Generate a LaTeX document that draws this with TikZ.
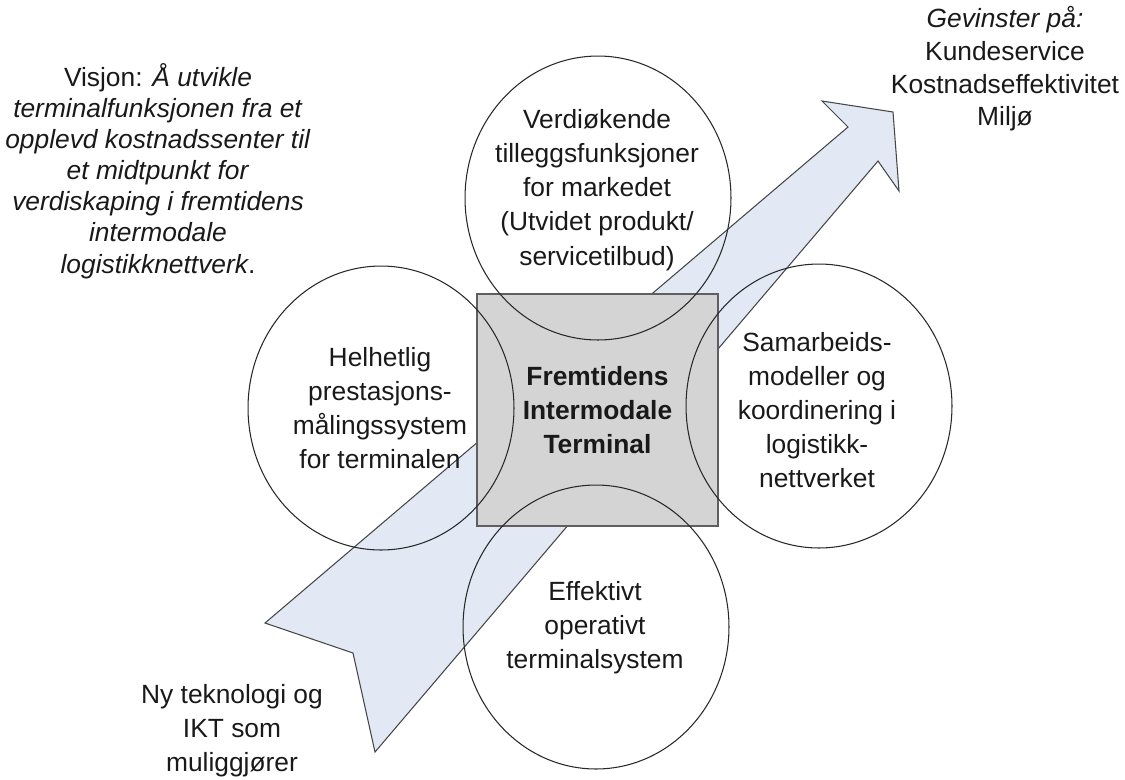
\documentclass[tikz,border=0pt]{standalone}
\usepackage{fontspec}
\setmainfont{Liberation Sans}
\usetikzlibrary{shapes.geometric}
\definecolor{pilfyll}{RGB}{226,233,245}
\definecolor{pilkant}{RGB}{70,70,70}
\definecolor{boksfyll}{RGB}{212,212,212}
\definecolor{bokskant}{RGB}{95,95,95}
\definecolor{ringkant}{RGB}{40,40,40}
\definecolor{tekst}{RGB}{25,25,25}

\begin{document}
\begin{tikzpicture}[x=0.02cm,y=-0.02cm,
    ring/.style={ellipse,draw=ringkant,line width=0.6pt,minimum width=5.32cm,minimum height=5.68cm,inner sep=0pt},
    ringtekst/.style={align=center,text=tekst,inner sep=0pt,font=\fontsize{15}{19.4}\selectfont},
    fritekst/.style={align=center,text=tekst,inner sep=0pt}]
    \useasboundingbox (0,0) rectangle (1125,779);
    % pila
    \coordinate (halesp) at (265,623);
    \coordinate (hakk) at (353,653);
    \coordinate (halebunn) at (375,752);
    \coordinate (halsv) at (848,127);
    \coordinate (mothv) at (822,101);
    \coordinate (spiss) at (893,112);
    \coordinate (mothh) at (899,191);
    \coordinate (halsh) at (878,161);
    \draw[fill=pilfyll,draw=pilkant,line width=0.6pt,line join=miter] (halesp) -- (halsv) -- (mothv) -- (spiss) -- (mothh) -- (halsh) -- (halebunn) -- (hakk) -- cycle;
    % midten
    \node[draw=bokskant,fill=boksfyll,line width=0.9pt,minimum width=4.82cm,minimum height=4.64cm,align=center,font=\bfseries\fontsize{15}{19.4}\selectfont,text=tekst] (terminal) at (597.5,410) {Fremtidens\\Intermodale\\Terminal};
    \node[ring] (topp) at (598,198) {};
    \node[ring] (venstre) at (381,408) {};
    \node[ring] (hoyre) at (819,406) {};
    \node[ring] (bunn) at (596,627) {};
    \node[ringtekst] (topptekst) at (597,190) {Verdiøkende\\tilleggsfunksjoner\\for markedet\\(Utvidet produkt/\\servicetilbud)};
    \node[ringtekst] (venstretekst) at (380,408) {Helhetlig\\prestasjons-\\målingssystem\\for terminalen};
    \node[ringtekst] (hoyretekst) at (817,410) {Samarbeids-\\modeller og\\koordinering i\\logistikk-\\nettverket};
    \node[ringtekst] (bunntekst) at (595,628) {Effektivt\\operativt\\terminalsystem};
    % tekst rundt
    \node[fritekst,font=\fontsize{15}{17.7}\selectfont] (visjon) at (158,171) {Visjon: \textit{Å utvikle}\\\textit{terminalfunksjonen fra et}\\\textit{opplevd kostnadssenter til}\\\textit{et midtpunkt for}\\\textit{verdiskaping i fremtidens}\\\textit{intermodale}\\\textit{logistikknettverk}.};
    \node[fritekst,font=\fontsize{15}{18.6}\selectfont] (gevinst) at (1005,69) {\textit{Gevinster på:}\\Kundeservice\\Kostnadseffektivitet\\Miljø};
    \node[fritekst,font=\fontsize{15}{19.4}\selectfont] (teknologi) at (232,731) {Ny teknologi og\\IKT som\\muliggjører};
\end{tikzpicture}
\end{document}
